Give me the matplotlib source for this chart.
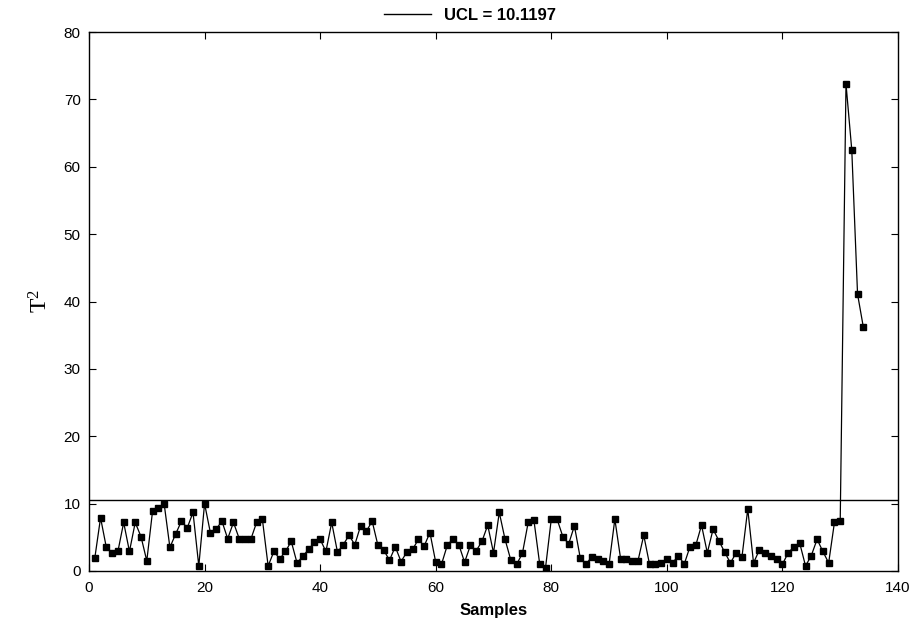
import matplotlib
matplotlib.use("Agg")
import matplotlib.pyplot as plt
import numpy as np

samples = list(range(1, 135))
t2_values = [
    1.9, 7.9, 3.5, 2.6, 2.9, 7.2, 2.9, 7.2, 5.1, 1.5,
    8.9, 9.4, 10.0, 3.5, 5.5, 7.4, 6.4, 8.7, 0.75, 10.0,
    5.7, 6.2, 7.4, 4.8, 7.2, 4.8, 4.8, 4.7, 7.2, 7.7,
    0.75, 2.9, 1.8, 2.9, 4.4, 1.2, 2.2, 3.2, 4.3, 4.7,
    2.9, 7.2, 2.8, 3.9, 5.3, 3.9, 6.7, 5.9, 7.4, 3.8,
    3.1, 1.6, 3.6, 1.4, 2.8, 3.2, 4.7, 3.7, 5.7, 1.3,
    1.0, 3.8, 4.8, 3.9, 1.3, 3.8, 3.0, 4.4, 6.8, 2.7,
    8.7, 4.7, 1.6, 1.0, 2.6, 7.2, 7.5, 1.0, 0.45, 7.7,
    7.7, 5.1, 4.0, 6.7, 2.0, 1.0, 2.1, 1.8, 1.5, 1.0,
    7.7, 1.8, 1.8, 1.5, 1.5, 5.3, 1.0, 1.0, 1.2, 1.8,
    1.2, 2.3, 1.0, 3.6, 3.8, 6.8, 2.7, 6.2, 4.5, 2.8,
    1.2, 2.7, 2.1, 9.2, 1.2, 3.1, 2.6, 2.2, 1.8, 1.0,
    2.7, 3.6, 4.1, 0.75, 2.3, 4.7, 2.9, 1.2, 7.2, 7.4,
    72.3, 62.5, 41.1, 36.2,
]
ucl_label = "UCL = 10.1197"
ucl_line_level = 10.6
x_ticks = [0, 20, 40, 60, 80, 100, 120, 140]
y_ticks = [0, 10, 20, 30, 40, 50, 60, 70, 80]

fig = plt.figure(figsize=(9.14, 6.24), dpi=100)
ax = fig.add_axes([89/914, 1-571/624, (898-89)/914, (571-32)/624])

ucl_handle, = ax.plot([0, 140], [ucl_line_level, ucl_line_level], color="black", lw=1.0)
ax.plot(samples, t2_values, color="black", lw=0.9, marker="s", markersize=3.8,
        markerfacecolor="black", markeredgecolor="black")

ax.set_xlim(0, 140)
ax.set_ylim(0, 80)
ax.set_xticks(x_ticks)
ax.set_yticks(y_ticks)
ax.tick_params(direction="in", top=True, right=True, length=5, width=0.8,
               labelsize=11)
ax.tick_params(axis="x", pad=7)
ax.tick_params(axis="y", pad=6)
for lbl in ax.get_xticklabels() + ax.get_yticklabels():
    lbl.set_fontfamily("Liberation Sans")
for sp in ax.spines.values():
    sp.set_linewidth(1.0)

ax.set_xlabel("Samples", fontsize=12, fontweight="bold", family="Liberation Sans", labelpad=6)
ax.set_ylabel(r"$\mathregular{T^2}$", fontsize=17, family="Liberation Serif", labelpad=8)

fig.legend([ucl_handle], [ucl_label], loc="center", bbox_to_anchor=(470/914, 1-15/624),
           frameon=False, prop={"family": "Liberation Sans", "weight": "bold", "size": 12},
           handlelength=2.8, handletextpad=0.8)

fig.savefig("out.png", dpi=100)
